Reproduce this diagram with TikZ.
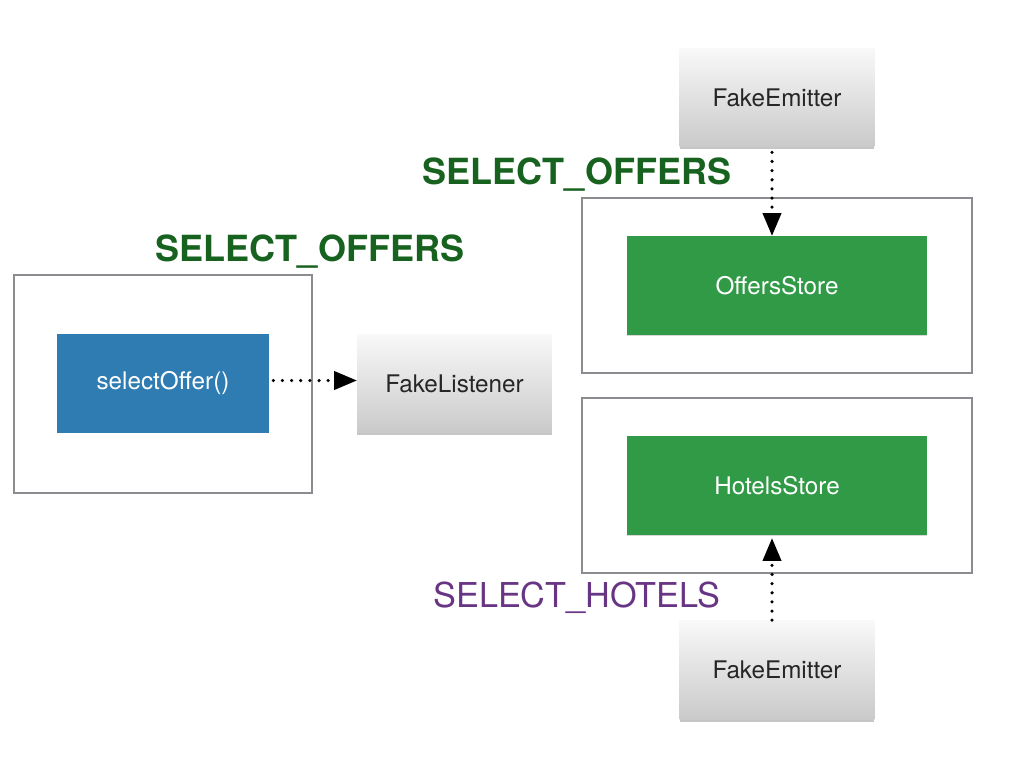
\documentclass[tikz,border=0pt]{standalone}
\usepackage{fontspec}
\setmainfont{TeX Gyre Heros}
\usetikzlibrary{arrows,shadows,positioning}
\definecolor{actionblue}{RGB}{46,124,178}
\definecolor{storegreen}{RGB}{48,154,70}
\definecolor{labelgreen}{RGB}{24,98,32}
\definecolor{labelpurple}{RGB}{104,52,132}
\definecolor{framegray}{RGB}{140,140,144}
\tikzset
{
    framebox/.style  = {rectangle, draw=framegray, line width=1pt, fill=white},
    actionnode/.style = {rectangle, fill=actionblue, text=white, align=center, minimum width=4.24cm, minimum height=1.98cm, font=\fontsize{13.8}{16}\selectfont},
    storenode/.style = {rectangle, fill=storegreen, text=white, align=center, minimum width=6cm, minimum height=1.98cm, font=\fontsize{13.8}{16}\selectfont,
                        drop shadow={shadow xshift=0pt, shadow yshift=-0.6pt, opacity=0.3}},
    fakenode/.style  = {rectangle, top color=gray!5, bottom color=gray!42, text=black!85, align=center, minimum width=3.9cm, minimum height=1.98cm,
                        font=\fontsize{13.8}{16}\selectfont, drop shadow={shadow xshift=0pt, shadow yshift=-1.2pt, opacity=0.45}},
    eventlabel/.style = {font=\fontsize{19.5}{23}\selectfont},
    fakeflow/.style  = {-triangle 45, line width=2pt, line cap=round, dash pattern=on 0pt off 5.2pt}
}

\begin{document}
\begin{tikzpicture}[x=0.02cm, y=-0.02cm]
\useasboundingbox (0,0) rectangle (1024,768);
% left side: action and listener
\node[framebox, minimum width=5.96cm, minimum height=4.36cm] (actionframe) at (163,384) {};
\node[actionnode] (selectoffer) at (163,383.5) {selectOffer()};
\node[fakenode] (listener) at (454.5,383.5) {FakeListener};
\node[eventlabel, text=labelgreen, font=\fontsize{20.5}{24}\selectfont\bfseries] (offerslabel) at (310,252) {SELECT\_OFFERS};
\draw[fakeflow] (selectoffer.east) ++(4,-3) coordinate (flowstart) -- (flowstart -| listener.west);

% right side: stores and emitters
\node[framebox, minimum width=7.8cm, minimum height=3.5cm] (offersframe) at (777,285.5) {};
\node[storenode] (offersstore) at (777,285.5) {OffersStore};
\node[fakenode] (emittertop) at (777,97.5) {FakeEmitter};
\node[eventlabel, text=labelgreen, font=\fontsize{20.5}{24}\selectfont\bfseries] (offerslabeltop) at (577,175) {SELECT\_OFFERS};

\node[framebox, minimum width=7.8cm, minimum height=3.5cm] (hotelsframe) at (777,485.5) {};
\node[storenode] (hotelsstore) at (777,485.5) {HotelsStore};
\node[fakenode] (emitterbottom) at (777,670) {FakeEmitter};
\node[eventlabel, text=labelpurple] (hotelslabel) at (577,598) {SELECT\_HOTELS};

\coordinate (topflow) at ([xshift=-0.1cm, yshift=-0.1cm]emittertop.south);
\draw[fakeflow] (topflow) -- (topflow |- offersstore.north);
\coordinate (bottomflow) at ([xshift=-0.1cm]emitterbottom.north);
\draw[fakeflow] (bottomflow) -- ([yshift=-0.06cm]bottomflow |- hotelsstore.south);
\end{tikzpicture}
\end{document}
